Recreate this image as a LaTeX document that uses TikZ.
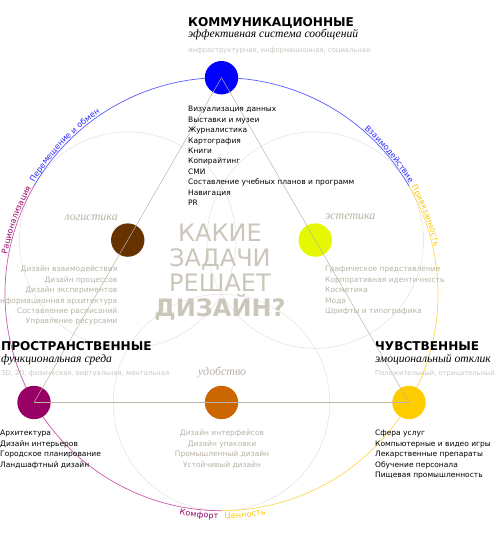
\documentclass[tikz,border=0pt]{standalone}
\usepackage{fontspec}
\setmainfont{DejaVu Sans}
\newfontfamily\serifit{Liberation Serif}
\usetikzlibrary{decorations.text}

\definecolor{commblue}{RGB}{0,0,255}
\definecolor{logbrown}{RGB}{102,51,0}
\definecolor{aeslime}{RGB}{230,248,0}
\definecolor{spacepurple}{RGB}{153,0,102}
\definecolor{comforange}{RGB}{204,102,0}
\definecolor{sensgold}{RGB}{255,204,0}
\definecolor{taskgray}{RGB}{184,178,165}
\definecolor{hintgray}{RGB}{200,197,190}
\definecolor{bigtext}{RGB}{202,198,186}
\definecolor{linkgray}{RGB}{190,178,165}
\definecolor{ringgray}{RGB}{228,225,222}
\definecolor{arcblue}{RGB}{90,90,255}
\definecolor{arcpurple}{RGB}{200,90,170}
\definecolor{arcgold}{RGB}{255,215,80}
\definecolor{labblue}{RGB}{40,40,255}
\definecolor{labpurple}{RGB}{153,0,102}
\definecolor{labgold}{RGB}{250,200,0}

\newcommand\arcfont{\fontsize{8}{9}\selectfont}

\begin{document}
\begin{tikzpicture}[x=1pt, y=1pt,
        dot/.style={circle, minimum size=33.4pt, inner sep=0pt},
        title/.style={anchor=base west, inner sep=0pt, font=\bfseries\fontsize{12.1}{14}\selectfont},
        subtitle/.style={anchor=base west, inner sep=0pt, font=\serifit\itshape\fontsize{11.6}{14}\selectfont},
        hint/.style={anchor=base west, inner sep=0pt, text=hintgray, font=\fontsize{6.8}{8}\selectfont},
        tasks/.style={inner sep=0pt, font=\fontsize{7.5}{10.4}\selectfont},
        area/.style={inner sep=0pt, text=taskgray, font=\serifit\itshape\fontsize{12}{14}\selectfont},
        link/.style={draw=linkgray, line width=0.5pt},
        ring/.style={draw=ringgray, line width=0.5pt},
        bigarc/.style={line width=0.7pt},
        arclabel/.style={decorate, decoration={text along path, raise=1.5pt}}
    ]
        \useasboundingbox (0,0) rectangle (500,548);
        \coordinate (O) at (221.5,253.8);

        \draw[ring] (127.75,307.9) circle[radius=108.25];
        \draw[ring] (315.25,307.9) circle[radius=108.25];
        \draw[ring] (221.5,145.5) circle[radius=108.25];

        \draw[bigarc, draw=arcblue] (O) ++(30:216.5) arc[start angle=30, end angle=150, radius=216.5];
        \draw[bigarc, draw=arcpurple] (O) ++(150:216.5) arc[start angle=150, end angle=270, radius=216.5];
        \draw[bigarc, draw=arcgold] (O) ++(270:216.5) arc[start angle=270, end angle=390, radius=216.5];

        \path[arclabel, decoration={text={|\arcfont\color{labpurple}|Рационализация}, text align={right, right indent=3pt}}]
            (O) ++(195:216.5) arc[start angle=195, end angle=150, radius=216.5];
        \path[arclabel, decoration={text={|\arcfont\color{labblue}|Перемещение и обмен}, text align={left, left indent=3pt}}]
            (O) ++(150:216.5) arc[start angle=150, end angle=105, radius=216.5];
        \path[arclabel, decoration={text={|\arcfont\color{labblue}|Взаимодействие}, text align={right, right indent=2pt}}]
            (O) ++(75:216.5) arc[start angle=75, end angle=30, radius=216.5];
        \path[arclabel, decoration={text={|\arcfont\color{labgold}|Привязанность}, text align={left, left indent=2pt}}]
            (O) ++(30:216.5) arc[start angle=30, end angle=-15, radius=216.5];
        \path[arclabel, decoration={text={|\arcfont\color{labpurple}|Комфорт}, text align={right, right indent=3pt}, raise=-8pt}]
            (O) ++(245:216.5) arc[start angle=245, end angle=270, radius=216.5];
        \path[arclabel, decoration={text={|\arcfont\color{labgold}|Ценность}, text align={left, left indent=3pt}, raise=-8pt}]
            (O) ++(270:216.5) arc[start angle=270, end angle=295, radius=216.5];

        \node[dot, fill=commblue] (comm) at (221.5,470.3) {};
        \node[dot, fill=logbrown] (logist) at (127.75,307.9) {};
        \node[dot, fill=aeslime] (aesth) at (315.25,307.9) {};
        \node[dot, fill=spacepurple] (space) at (34,145.5) {};
        \node[dot, fill=comforange] (comfort) at (221.5,145.5) {};
        \node[dot, fill=sensgold] (sense) at (409,145.5) {};

        \draw[link] (comm.center) -- (space.center);
        \draw[link] (comm.center) -- (sense.center);
        \draw[link] (space.center) -- (sense.center);

        \node[title] (commtitle) at (188,521.3) {КОММУНИКАЦИОННЫЕ};
        \node[subtitle] (commsub) at (188,510) {эффективная система сообщений};
        \node[hint] (commhint) at (188,495.5) {инфраструктурная, информационная, социальная};
        \node[tasks, anchor=base west, align=left] (commtasks) at (188,342.5) {Визуализация данных\\Выставки и музеи\\Журналистика\\Картография\\Книги\\Копирайтинг\\СМИ\\Составление учебных планов и программ\\Навигация\\PR};

        \node[area, anchor=base east] (logistlabel) at (118,327.5) {логистика};
        \node[tasks, anchor=base east, align=right, text=taskgray] (logisttasks) at (117.5,224) {Дизайн взаимодействия\\Дизайн процессов\\Дизайн экспериментов\\Информационная архитектура\\Составление расписаний\\Управление ресурсами};

        \node[area, anchor=base west] (aesthlabel) at (325,328) {эстетика};
        \node[tasks, anchor=base west, align=left, text=taskgray] (aesthtasks) at (325,234.4) {Графическое представление\\Корпоративная идентичность\\Косметика\\Мода\\Шрифты и типографика};

        \node[inner sep=0pt, anchor=base, align=center, text=bigtext, font=\fontsize{24}{25}\selectfont] (question) at (220,231) {КАКИЕ\\ЗАДАЧИ\\РЕШАЕТ\\\textbf{ДИЗАЙН?}};

        \node[title] (spacetitle) at (1,197.3) {ПРОСТРАНСТВЕННЫЕ};
        \node[subtitle] (spacesub) at (1,185.5) {функциональная среда};
        \node[hint] (spacehint) at (1,172) {3D, 2D, физическая, виртуальная, ментальная};
        \node[tasks, anchor=base west, align=left] (spacetasks) at (0,80.8) {Архитектура\\Дизайн интерьеров\\Городское планирование\\Ландшафтный дизайн};

        \node[area, anchor=base] (comfortlabel) at (222,172.5) {удобство};
        \node[tasks, anchor=base, align=center, text=taskgray] (comforttasks) at (222,80.8) {Дизайн интерфейсов\\Дизайн упаковки\\Промышленный дизайн\\Устойчивый дизайн};

        \node[title] (sensetitle) at (375,197.3) {ЧУВСТВЕННЫЕ};
        \node[subtitle] (sensesub) at (375,185.5) {эмоциональный отклик};
        \node[hint] (sensehint) at (375,172) {Положительный, отрицательный};
        \node[tasks, anchor=base west, align=left] (sensetasks) at (375,70.4) {Сфера услуг\\Компьютерные и видео игры\\Лекарственные препараты\\Обучение персонала\\Пищевая промышленность};
    \end{tikzpicture}
\end{document}
